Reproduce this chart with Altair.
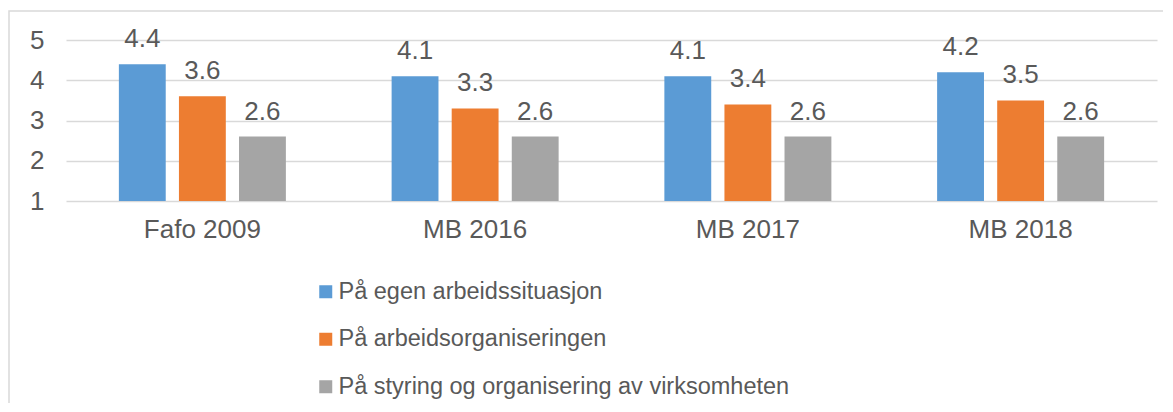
import altair as alt
import pandas as pd

categories = ["Fafo 2009", "MB 2016", "MB 2017", "MB 2018"]
series = ["På egen arbeidssituasjon", "På arbeidsorganiseringen",
          "På styring og organisering av virksomheten"]
egen = [4.4, 4.1, 4.1, 4.2]
organisering = [3.6, 3.3, 3.4, 3.5]
styring = [2.6, 2.6, 2.6, 2.6]
colors = ["#5B9BD5", "#ED7D31", "#A5A5A5"]
y_ticks = [1, 2, 3, 4, 5]

rows = []
for s, vals in zip(series, [egen, organisering, styring]):
    for c, v in zip(categories, vals):
        rows.append({"kategori": c, "serie": s, "verdi": v})
df = pd.DataFrame(rows)

W, H = 1091, 161
FONT = "Liberation Sans"
TXT = "#595959"
GRID = "#d9d9d9"

base = alt.Chart(df).encode(
    x=alt.X("kategori:N", sort=categories,
            scale=alt.Scale(paddingInner=0, paddingOuter=0),
            axis=alt.Axis(title=None, labelAngle=0, ticks=False, domain=False,
                          grid=False, labelFontSize=26, labelColor=TXT,
                          labelFont=FONT, labelPadding=15)),
    xOffset=alt.XOffset("serie:N", sort=series,
                        scale=alt.Scale(paddingInner=0.22, paddingOuter=0.88)),
    y=alt.Y("verdi:Q", scale=alt.Scale(domain=[1, 5], zero=False, nice=False),
            axis=alt.Axis(values=y_ticks, title=None, ticks=False, domain=False,
                          gridColor=GRID, gridWidth=1.5, labelFontSize=26,
                          labelColor=TXT, labelFont=FONT, labelPadding=22)),
)

bars = base.mark_bar().encode(
    y2=alt.datum(1),
    color=alt.Color("serie:N", sort=series,
                    scale=alt.Scale(domain=series, range=colors),
                    legend=alt.Legend(title=None, orient="none", legendX=248,
                                      legendY=240, direction="vertical",
                                      symbolType="square", symbolSize=169,
                                      symbolStrokeWidth=0, labelFontSize=23.5,
                                      labelColor=TXT, labelFont=FONT,
                                      rowPadding=22.5, labelOffset=1,
                                      labelLimit=800)),
)

labels = base.mark_text(baseline="alphabetic", dy=-17, fontSize=26,
                        color=TXT, font=FONT).encode(
    text=alt.Text("verdi:Q", format=".1f"),
)

border = alt.Chart(pd.DataFrame({"a": [0]})).mark_rect(
    filled=False, stroke=GRID, strokeWidth=1.5
).encode(
    x=alt.value(-57), x2=alt.value(1300), y=alt.value(-29), y2=alt.value(600)
)

chart = alt.layer(border, bars, labels).properties(
    width=W, height=H,
    padding={"left": 58, "top": 32, "right": 6, "bottom": 202},
    autosize=alt.AutoSizeParams(type="none"),
).configure_view(stroke=None)

chart.save("out.html", embed_options={"renderer": "svg", "actions": False})
